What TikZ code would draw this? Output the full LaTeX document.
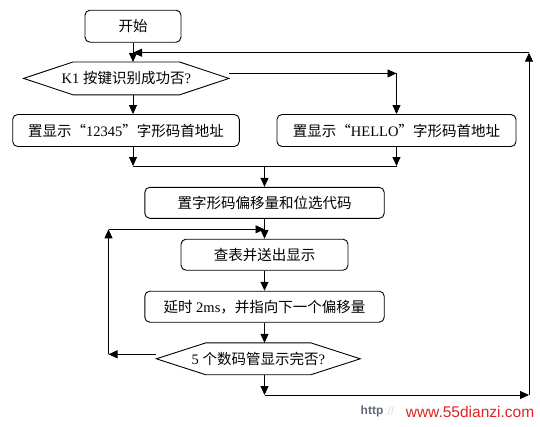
\documentclass[tikz,border=0pt]{standalone}
\usepackage{fontspec}
\setmainfont{Liberation Serif}
\newfontfamily\cjk{Noto Sans CJK SC}
\newfontfamily\wmfont{Liberation Sans}
\usetikzlibrary{arrows.meta}
\newcommand{\zh}[1]{{\cjk #1}}
\definecolor{wmred}{RGB}{225,35,35}
\definecolor{wmgray}{RGB}{95,105,125}

\begin{document}
\begin{tikzpicture}[x=1pt, y=-1pt, line width=0.9pt, font=\fontsize{14.5pt}{17pt}\selectfont]
                            \tikzset{module/.style={draw, shape=rectangle, rounded corners=5pt, minimum height=32pt, inner sep=0pt}}
                            \tikzset{test/.style={shape=rectangle, inner sep=0pt}}
                            \tikzset{link/.style={-{Triangle[length=9pt, width=8pt]}}}
                            \useasboundingbox (0,0) rectangle (540,426);
                            \node[module, minimum width=96pt] (start) at (133,26.2) {\zh{开始}};
                            \node[test, minimum width=204.5pt, minimum height=32pt] (k1) at (126.3,78.4) {K1 \zh{按键识别成功否}?};
                            \node[module, minimum width=226.6pt] (num) at (126,130.5) {\zh{置显示“}12345\zh{”字形码首地址}};
                            \node[module, minimum width=239pt] (hello) at (396.5,130.5) {\zh{置显示“}HELLO\zh{”字形码首地址}};
                            \node[module, minimum width=239.4pt, minimum height=31pt] (offset) at (264.5,202.8) {\zh{置字形码偏移量和位选代码}};
                            \node[module, minimum width=167pt, minimum height=31pt] (table) at (264.5,254.7) {\zh{查表并送出显示}};
                            \node[module, minimum width=239.4pt, minimum height=31pt] (delay) at (264.5,306.7) {\zh{延时} 2ms\zh{，并指向下一个偏移量}};
                            \node[test, minimum width=203pt, minimum height=31pt] (five) at (258.3,358.8) {5 \zh{个数码管显示完否}?};
                            \foreach \d in {k1,five}
                                \draw (\d.west) -- ([xshift=49.5pt]\d.north west) -- ([xshift=-49.5pt]\d.north east) -- (\d.east) -- ([xshift=-49.5pt]\d.south east) -- ([xshift=49.5pt]\d.south west) -- cycle;
                            \coordinate (top) at (133,52.7);
                            \coordinate (m) at (264.5,166);
                            \coordinate (lp) at (108.5,229.3);
                            \coordinate (bt) at (264.5,395);
                            \coordinate (back) at (529,395);
                            \coordinate (k1r) at ([yshift=5pt]k1.east);
                            \coordinate (fivel) at ([yshift=4.5pt]five.west);
                            \draw[link] (start) -- (k1.north -| start);
                            \draw[link] (k1.south -| start) -- (num.north -| start);
                            \draw[link] (k1r) -- (k1r -| hello);
                            \draw[link] (k1r -| hello) -- (hello);
                            \draw[link] (num.south -| start) -- (m -| start);
                            \draw[link] (hello) -- (m -| hello);
                            \draw (m -| start) -- (m -| hello);
                            \draw[link] (m) -- (offset);
                            \draw[link] (offset) -- (table);
                            \draw[link] (table) -- (delay);
                            \draw[link] (delay.south) -- (delay.south |- five.north);
                            \draw[link] (fivel) -- (fivel -| lp);
                            \draw[link] (fivel -| lp) -- (lp);
                            \draw[link] (lp) -- (lp -| table);
                            \draw[link] (five.south -| bt) -- (bt);
                            \draw[link] (bt) -- (back);
                            \draw[link] (back) -- (back |- top);
                            \draw[link] (back |- top) -- (top);
                            % watermark
                            \node[font=\wmfont\bfseries\fontsize{12pt}{12pt}\selectfont, text=wmgray, inner sep=0pt] (wmh) at (372,411.5) {http};
                            \node[font=\wmfont\fontsize{12pt}{12pt}\selectfont, text=wmgray!25, inner sep=0pt, anchor=west] (wms) at (wmh.east) {://};
                            \node[font=\wmfont\fontsize{15.5pt}{15.5pt}\selectfont, text=wmred, inner sep=0pt] (wm) at (470,412) {www.55dianzi.com};
                        \end{tikzpicture}
\end{document}
